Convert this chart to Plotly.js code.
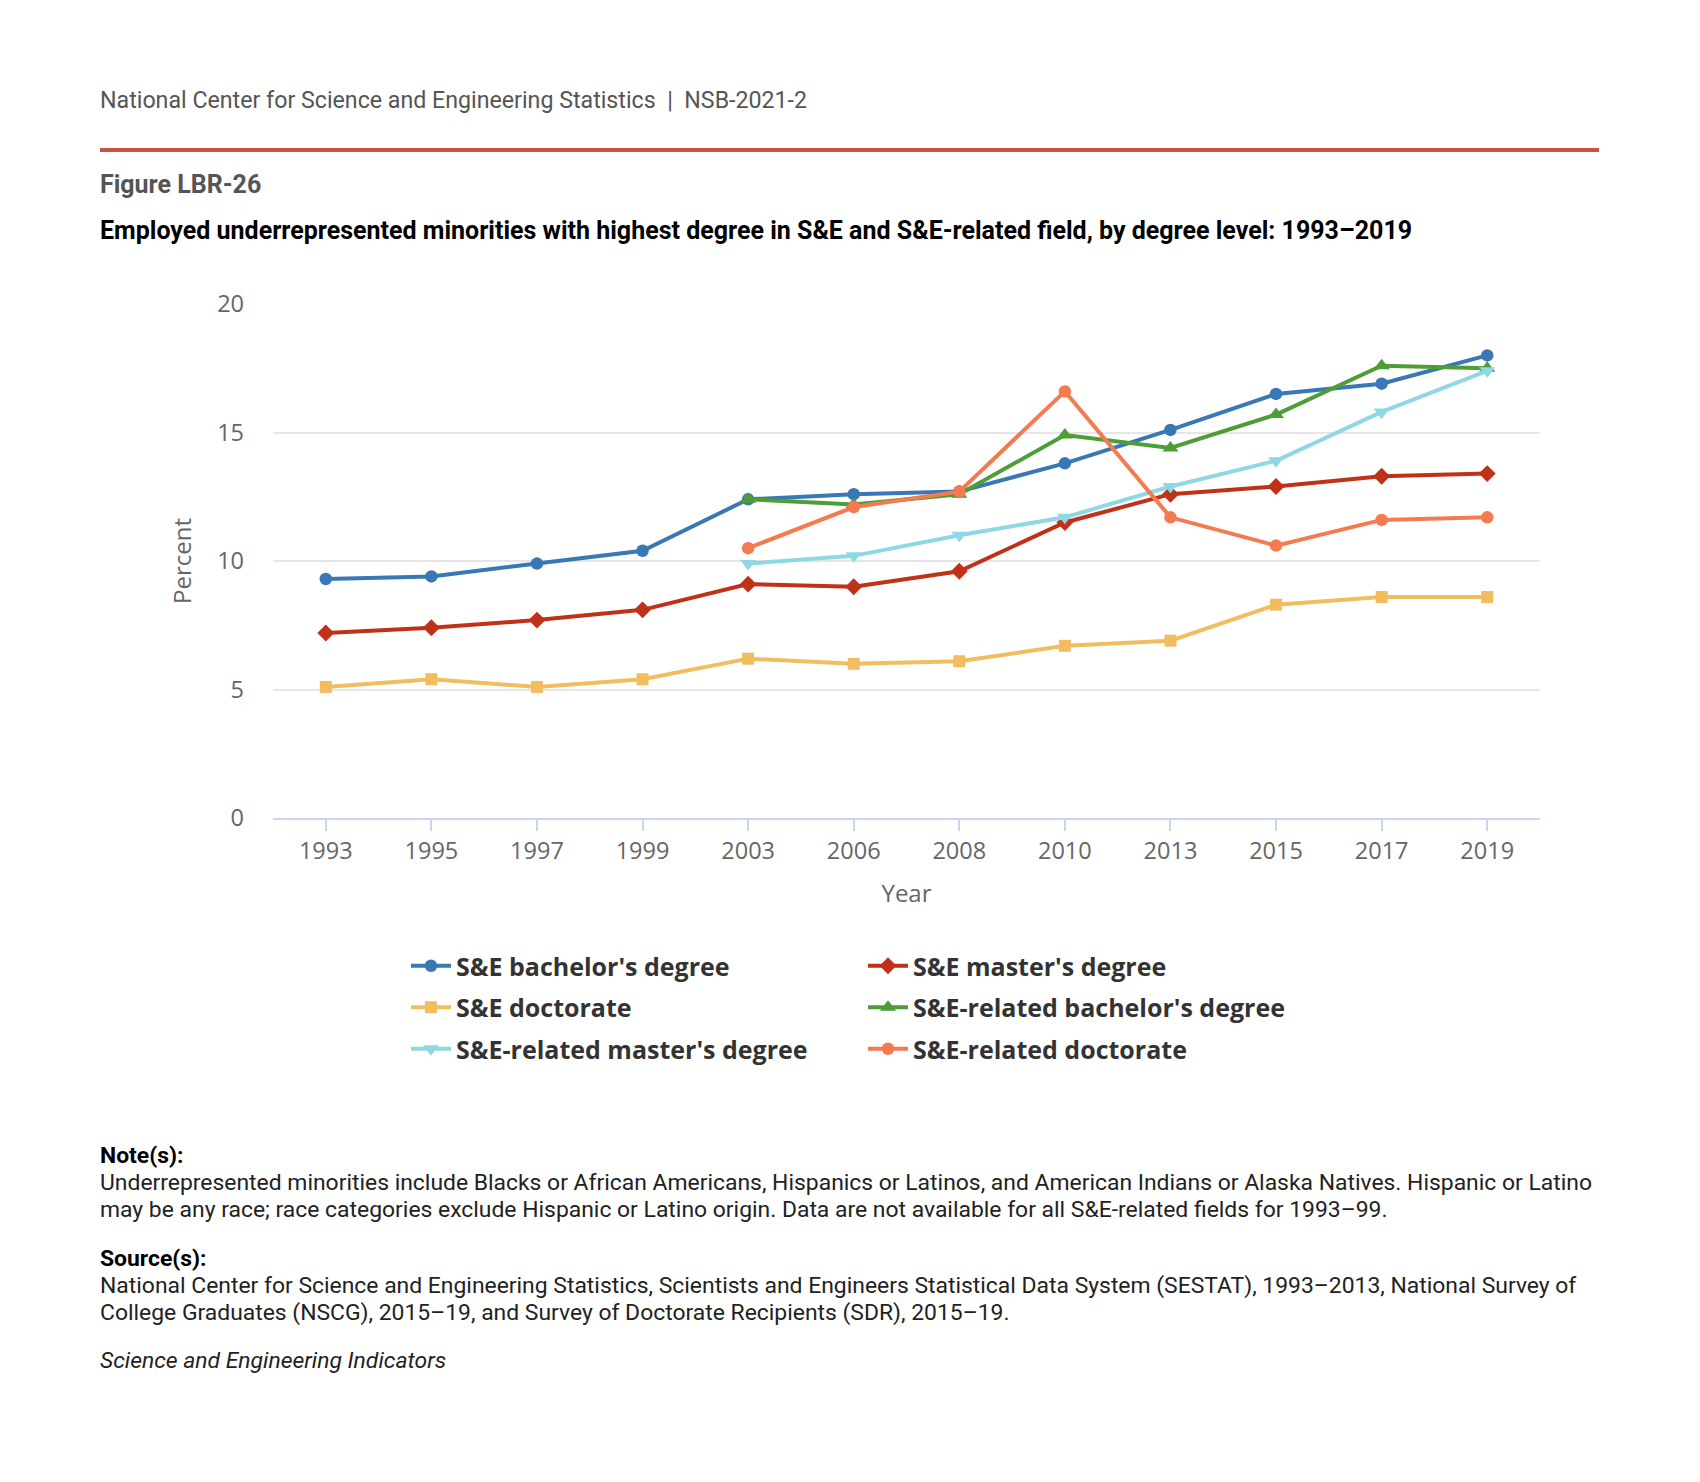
<!DOCTYPE html>
<html><head><meta charset="utf-8">
<script src="https://cdn.plot.ly/plotly-3.0.1.min.js"></script>
<style>html,body{margin:0;padding:0;background:#fff}#chart{width:1700px;height:1482px}</style>
</head><body><div id="chart"></div>
<script>
// ---- data ----
const years = ['1993','1995','1997','1999','2003','2006','2008','2010','2013','2015','2017','2019'];
const seBachelors  = [9.3, 9.4, 9.9, 10.4, 12.4, 12.6, 12.7, 13.8, 15.1, 16.5, 16.9, 18.0];
const seMasters    = [7.2, 7.4, 7.7, 8.1, 9.1, 9.0, 9.6, 11.5, 12.6, 12.9, 13.3, 13.4];
const seDoctorate  = [5.1, 5.4, 5.1, 5.4, 6.2, 6.0, 6.1, 6.7, 6.9, 8.3, 8.6, 8.6];
const relBachelors = [null, null, null, null, 12.4, 12.2, 12.6, 14.9, 14.4, 15.7, 17.6, 17.5];
const relMasters   = [null, null, null, null, 9.9, 10.2, 11.0, 11.7, 12.9, 13.9, 15.8, 17.4];
const relDoctorate = [null, null, null, null, 10.5, 12.1, 12.7, 16.6, 11.7, 10.6, 11.6, 11.7];
const seriesNames = ["S&E bachelor's degree", "S&E master's degree", "S&E doctorate",
                     "S&E-related bachelor's degree", "S&E-related master's degree", "S&E-related doctorate"];
const yTickVals = [0, 5, 10, 15, 20];

// ---- styles ----
const seriesValues = [seBachelors, seMasters, seDoctorate, relBachelors, relMasters, relDoctorate];
const colors  = ['#3a77b5', '#c0311a', '#f2bd5f', '#4c9e35', '#8fd8e3', '#f47a50'];
const symbols = ['circle', 'diamond', 'square', 'triangle-up', 'triangle-down', 'circle'];
const sizes   = [12.5, 13, 12, 14, 14, 12.5];

const W = 1700, H = 1482;
const M = {l: 273, r: 160, t: 304, b: 664};
const pw = W - M.l - M.r, ph = H - M.t - M.b;
const px = x => (x - M.l) / pw;
const py = y => (H - M.b - y) / ph;

const traces = seriesValues.map((vals, i) => ({
  type: 'scatter', mode: 'lines+markers',
  x: years, y: vals, name: seriesNames[i],
  legendgroup: 'g' + i,
  connectgaps: false,
  line: {color: colors[i], width: 4},
  marker: {color: colors[i], symbol: symbols[i], size: sizes[i]},
  hoverinfo: 'x+y+name'
}));

function ann(text, x, y, font, extra) {
  return Object.assign({text, x: px(x), y: py(y), xref: 'paper', yref: 'paper',
    xanchor: 'left', yanchor: 'middle', align: 'left', showarrow: false, font}, extra || {});
}
const roboto = 'Roboto, "Liberation Sans", sans-serif';
const noteFont = {family: roboto, size: 22.9, color: '#222'};
const headFont = {family: roboto, size: 22.9, color: '#000', weight: 'bold'};

const annotations = [
  ann('National Center for Science and Engineering Statistics\u00a0\u00a0|\u00a0\u00a0NSB-2021-2', 98, 100, {family: roboto, size: 23.2, color: '#555'}),
  ann('Figure LBR-26', 98, 185, {family: roboto, size: 25, color: '#555', weight: 'bold'}),
  ann('Employed underrepresented minorities with highest degree in S&amp;E and S&amp;E-related field, by degree level: 1993–2019', 98, 230, {family: roboto, size: 25, color: '#000', weight: 'bold'}),
  ann('Note(s):', 98, 1155, headFont),
  ann('Underrepresented minorities include Blacks or African Americans, Hispanics or Latinos, and American Indians or Alaska Natives. Hispanic or Latino', 98, 1182, noteFont),
  ann('may be any race; race categories exclude Hispanic or Latino origin. Data are not available for all S&amp;E-related fields for 1993–99.', 98, 1209, noteFont),
  ann('Source(s):', 98, 1258, headFont),
  ann('National Center for Science and Engineering Statistics, Scientists and Engineers Statistical Data System (SESTAT), 1993–2013, National Survey of', 98, 1285, noteFont),
  ann('College Graduates (NSCG), 2015–19, and Survey of Doctorate Recipients (SDR), 2015–19.', 98, 1312, noteFont),
  ann('<i>Science and Engineering Indicators</i>', 98, 1360, noteFont)
];

const layout = {
  width: W, height: H,
  margin: Object.assign({autoexpand: false}, M),
  paper_bgcolor: '#fff', plot_bgcolor: '#fff',
  font: {family: '"Open Sans", sans-serif', color: '#666'},
  showlegend: true,
  xaxis: {
    type: 'category', categoryorder: 'array', categoryarray: years,
    range: [-0.5, years.length - 0.5],
    showline: true, linecolor: '#ccd6eb', linewidth: 2,
    ticks: 'outside', ticklen: 11, tickwidth: 2, tickcolor: '#ccd6eb',
    showgrid: false, zeroline: false,
    tickfont: {size: 23.5, color: '#666'},
    title: {text: 'Year', font: {size: 24, color: '#666'}, standoff: 20},
    fixedrange: true
  },
  yaxis: {
    range: [0, 20], tickvals: yTickVals, ticktext: yTickVals.map(String),
    showgrid: true, gridcolor: '#e6e6e6', gridwidth: 2,
    zeroline: false, showline: false, ticks: '',
    ticklabelstandoff: 28,
    tickfont: {size: 23.5, color: '#666'},
    title: {text: 'Percent', font: {size: 24, color: '#666'}, standoff: 18},
    fixedrange: true
  },
  legend: {
    orientation: 'h', xref: 'paper', yref: 'paper',
    x: px(406), y: py(943), xanchor: 'left', yanchor: 'top',
    entrywidth: 402, entrywidthmode: 'pixels',
    itemwidth: 40,
    tracegroupgap: 6,
    font: {family: '"Open Sans", sans-serif', size: 25, color: '#333', weight: 'bold'},
    bgcolor: 'rgba(0,0,0,0)', borderwidth: 0, traceorder: 'grouped'
  },
  shapes: [{type: 'line', xref: 'paper', yref: 'paper', x0: px(100), x1: px(1599), y0: py(150), y1: py(150),
            line: {color: '#c8553d', width: 4}}],
  annotations
};

Plotly.newPlot('chart', traces, layout, {displayModeBar: false});
</script>
</body></html>
